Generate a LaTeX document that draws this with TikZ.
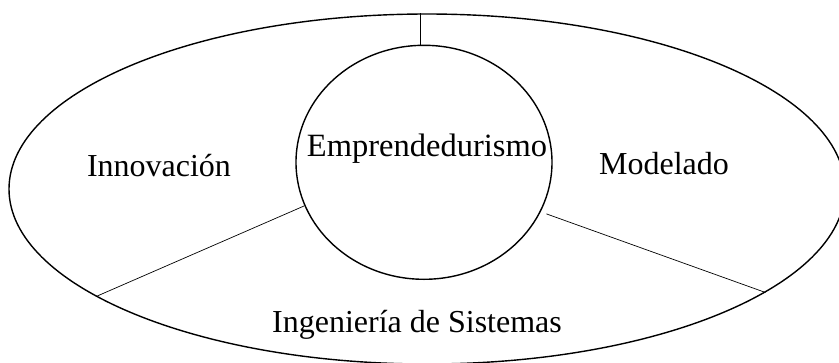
\documentclass[tikz,border=0pt]{standalone}
\usepackage{fontspec}
\setmainfont{Liberation Serif}
\usetikzlibrary{shapes.geometric}
\begin{document}
\begin{tikzpicture}[x=1pt,y=-1pt,
  shape line/.style={draw=black,line width=1.4pt,ellipse,inner sep=0pt},
  thin link/.style={draw=black,line width=0.7pt},
  lbl/.style={font=\fontsize{32}{36}\selectfont,inner sep=0pt}]
\useasboundingbox (0,0) rectangle (839,362);
\node[shape line,minimum width=836pt,minimum height=350pt] (outer) at (427,189) {};
\node[shape line,minimum width=256pt,minimum height=234pt] (inner) at (424,162.3) {};
\draw[thin link] (inner.92) -- (inner.92 |- outer.north);
\draw[thin link] (inner.200.86) -- (outer.198.3);
\draw[thin link,shorten <=6pt] (inner.-23.5) -- (outer.-17.3);
\node[lbl] (inno) at (159,166) {Innovación};
\node[lbl,font=\fontsize{32.5}{36}\selectfont] (empr) at (427,149) {Emprendedurismo};
\node[lbl] (mode) at (664,164) {Modelado};
\node[lbl] (inge) at (417,325) {Ingeniería de Sistemas};
\end{tikzpicture}
\end{document}
